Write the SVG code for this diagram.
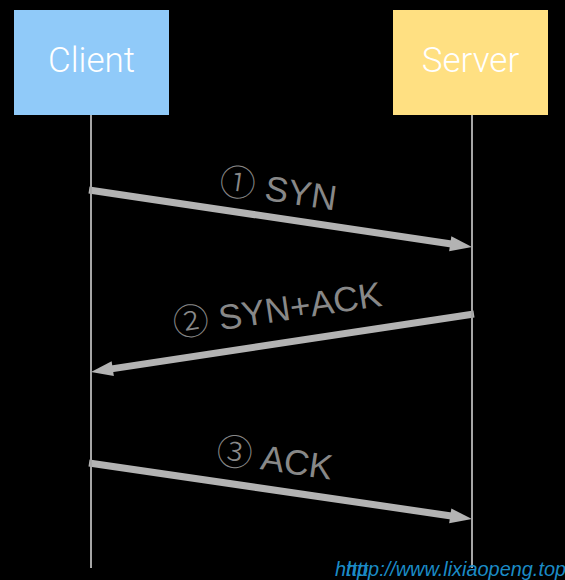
<svg xmlns="http://www.w3.org/2000/svg" width="565" height="580" viewBox="0 0 565 580">
<defs>
<style>
.box-label{font-family:Roboto,"Liberation Sans",sans-serif;font-weight:300;font-size:35px;fill:#ffffff;text-anchor:middle}
.msg{font-family:"Liberation Sans",Arial,sans-serif;font-size:35px;fill:#888888}
.num{font-family:"Noto Sans CJK SC","DejaVu Sans",sans-serif;font-weight:300;font-size:36px;fill:#888888}
.lifeline{stroke:#a6a6a6;stroke-width:2;fill:none}
.msg-line{stroke:#b3b3b3;stroke-width:7;fill:none;marker-end:url(#head)}
.wm{font-family:"Liberation Sans",Arial,sans-serif;font-style:italic;font-size:19.9px;fill:#1b8bc6}
</style>
<marker id="head" markerUnits="userSpaceOnUse" markerWidth="22" markerHeight="16" refX="8" refY="8" orient="auto" overflow="visible">
<path d="M0,0.5 L22,8 L0,15.5 Z" fill="#b3b3b3"/>
</marker>
</defs>
<rect x="0" y="0" width="565" height="580" fill="#000000"/>
<g id="connectors">
<line class="msg-line" x1="89" y1="190" x2="458.15" y2="244.93"/>
<line class="msg-line" x1="474" y1="314" x2="104.84" y2="369.89"/>
<line class="msg-line" x1="89" y1="463" x2="458.15" y2="516.96"/>
</g>
<g id="client">
<rect x="14" y="10" width="155" height="105" fill="#90CAF9"/>
<text class="box-label" x="91.5" y="72">Client</text>
<line class="lifeline" x1="91" y1="115" x2="91" y2="568"/>
</g>
<g id="server">
<rect x="393" y="10" width="155" height="105" fill="#FFE082"/>
<text class="box-label" x="470.5" y="72">Server</text>
<line class="lifeline" x1="472" y1="115" x2="472" y2="568"/>
</g>
<g id="labels">
<text transform="translate(218,193) rotate(8.5)"><tspan class="num" x="0" y="0">①</tspan><tspan class="msg" x="46" y="0">SYN</tspan></text>
<text transform="translate(175,337) rotate(-8.5)"><tspan class="num" x="0" y="0">②</tspan><tspan class="msg" x="46" y="0">SYN+ACK</tspan></text>
<text transform="translate(215,462.5) rotate(8.4)"><tspan class="num" x="0" y="0">③</tspan><tspan class="msg" x="45" y="0">ACK</tspan></text>
</g>
<g id="watermark">
<text class="wm" x="335" y="576">http</text>
<text class="wm" x="346" y="576">http://www.lixiaopeng.top</text>
</g>
</svg>
